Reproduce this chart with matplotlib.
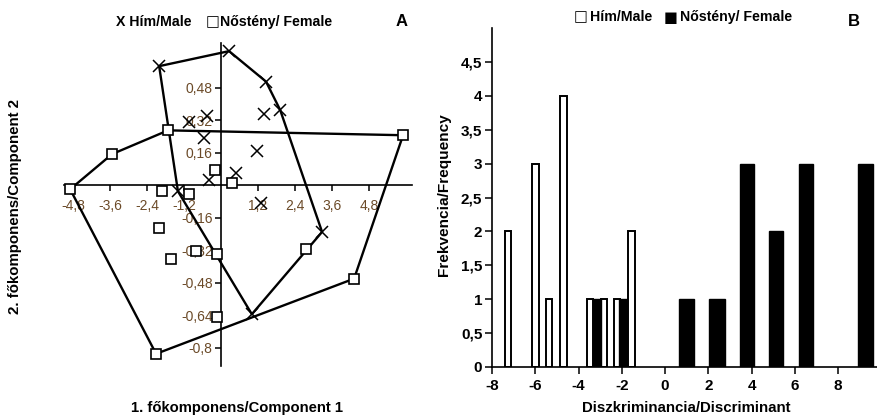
import matplotlib.pyplot as plt
from matplotlib.ticker import FixedLocator, FuncFormatter

plt.rcParams['font.family'] = ['Liberation Sans', 'DejaVu Sans']
plt.rcParams['font.weight'] = 'bold'
plt.rcParams['axes.unicode_minus'] = False

# ---------------------------------------------------------------------------
# Panel A: principal component scores
# ---------------------------------------------------------------------------
male_pc1 = [-2.01, 0.26, 1.46, 1.92, 1.40, -0.45, -1.04, -0.55, 1.17, 0.49,
            -0.39, -1.40, 1.30, 3.28, 1.00]
male_pc2 = [0.586, 0.66, 0.51, 0.37, 0.35, 0.34, 0.31, 0.23, 0.17, 0.06,
            0.025, -0.03, -0.09, -0.23, -0.635]

female_pc1 = [-1.72, 5.91, -3.54, -4.90, -1.92, -1.04, -0.19, 0.36, -2.01,
              -0.81, -0.13, -1.62, 2.77, 4.32, -0.13, -2.11]
female_pc2 = [0.27, 0.246, 0.153, -0.02, -0.03, -0.044, 0.074, 0.01, -0.21,
              -0.325, -0.34, -0.365, -0.315, -0.46, -0.65, -0.83]

pc1_ticks = [-4.8, -3.6, -2.4, -1.2, 1.2, 2.4, 3.6, 4.8]
pc2_ticks = [-0.8, -0.64, -0.48, -0.32, -0.16, 0.16, 0.32, 0.48]

# ---------------------------------------------------------------------------
# Panel B: discriminant score histogram
# ---------------------------------------------------------------------------
male_bins = [-7.25, -5.98, -5.37, -4.70, -3.46, -2.81, -2.21, -1.56]
male_freq = [2, 3, 1, 4, 1, 1, 1, 2]
female_bins = [-3.13, -1.93, 1.00, 2.40, 3.78, 5.13, 6.52, 9.28]
female_freq = [1, 1, 1, 1, 3, 2, 3, 3]

disc_ticks = [-8, -6, -4, -2, 0, 2, 4, 6, 8]
freq_ticks = [0, 0.5, 1, 1.5, 2, 2.5, 3, 3.5, 4, 4.5]

# bar widths (female bars sharing a bin with males are half width)
MALE_W = 0.30
female_w = [0.36, 0.36, 0.68, 0.70, 0.65, 0.62, 0.68, 0.70]

W, H = 878, 416
TICK_COLOR_A = '#6b4a28'


def comma(v, pos=None):
    s = f"{v:g}"
    return s.replace('.', ',')


def hull(xs, ys):
    pts = sorted(set(zip(xs, ys)))

    def cross(o, a, b):
        return (a[0] - o[0]) * (b[1] - o[1]) - (a[1] - o[1]) * (b[0] - o[0])

    lower, upper = [], []
    for p in pts:
        while len(lower) >= 2 and cross(lower[-2], lower[-1], p) <= 0:
            lower.pop()
        lower.append(p)
    for p in reversed(pts):
        while len(upper) >= 2 and cross(upper[-2], upper[-1], p) <= 0:
            upper.pop()
        upper.append(p)
    ring = lower[:-1] + upper[:-1]
    ring.append(ring[0])
    return [p[0] for p in ring], [p[1] for p in ring]


fig = plt.figure(figsize=(W / 100, H / 100), dpi=100)

# ---- Panel A --------------------------------------------------------------
axA = fig.add_axes([64 / W, 1 - 366 / H, (412 - 64) / W, (366 - 43) / H])
axA.set_xlim(-5.1, 6.2)
axA.set_ylim(-0.89, 0.70)
for s in ('top', 'right'):
    axA.spines[s].set_visible(False)
axA.spines['left'].set_position(('data', 0))
axA.spines['bottom'].set_position(('data', 0))
for s in ('left', 'bottom'):
    axA.spines[s].set_linewidth(1.2)

hx, hy = hull(male_pc1, male_pc2)
axA.plot(hx, hy, color='black', lw=1.7, zorder=2)
hx, hy = hull(female_pc1, female_pc2)
axA.plot(hx, hy, color='black', lw=1.7, zorder=2)

axA.plot(male_pc1, male_pc2, ls='none', marker='x', ms=9, mew=1.1,
         color='black', zorder=3)
axA.plot(female_pc1, female_pc2, ls='none', marker='s', ms=6.5, mew=1.2,
         mfc='white', mec='black', zorder=3)

axA.xaxis.set_major_locator(FixedLocator(pc1_ticks))
axA.yaxis.set_major_locator(FixedLocator(pc2_ticks))
axA.xaxis.set_major_formatter(FuncFormatter(comma))
axA.yaxis.set_major_formatter(FuncFormatter(comma))
axA.tick_params(axis='x', direction='out', length=4, width=1.1, pad=6,
                labelsize=10, labelcolor=TICK_COLOR_A)
axA.tick_params(axis='y', direction='out', length=4, width=1.1, pad=2,
                labelsize=10, labelcolor=TICK_COLOR_A)
for lab in axA.get_xticklabels() + axA.get_yticklabels():
    lab.set_fontweight('normal')
    lab.set_zorder(5)

fig.text(15 / W, 1 - 206 / H, '2. főkomponens/Component 2', rotation=90,
         ha='center', va='center', fontsize=10.8)
fig.text(237 / W, 1 - 408 / H, '1. főkomponens/Component 1',
         ha='center', va='center', fontsize=10.6)
fig.text(116 / W, 1 - 22 / H, 'X Hím/Male', ha='left', va='center',
         fontsize=10.2)
fig.text(206 / W, 1 - 22 / H, '□', ha='left', va='center', fontsize=10.5,
         family='DejaVu Sans', fontweight='bold')
fig.text(220 / W, 1 - 22 / H, 'Nőstény/ Female', ha='left', va='center',
         fontsize=10.2)
fig.text(402 / W, 1 - 21 / H, 'A', ha='center', va='center', fontsize=12)

# ---- Panel B --------------------------------------------------------------
axB = fig.add_axes([492 / W, 1 - 367 / H, (877 - 492) / W, (367 - 28) / H])
axB.set_xlim(-8, 9.8)
axB.set_ylim(0, 5.0)
for s in ('top', 'right'):
    axB.spines[s].set_visible(False)
for s in ('left', 'bottom'):
    axB.spines[s].set_linewidth(1.2)

axB.bar(male_bins, male_freq, width=MALE_W, color='white',
        edgecolor='black', linewidth=1.4, zorder=2)
axB.bar(female_bins, female_freq, width=female_w, color='black',
        edgecolor='black', linewidth=1.0, zorder=2)

axB.xaxis.set_major_locator(FixedLocator(disc_ticks))
axB.yaxis.set_major_locator(FixedLocator(freq_ticks))
axB.yaxis.set_major_formatter(FuncFormatter(comma))
axB.tick_params(axis='both', direction='out', length=5, width=1.1,
                labelsize=11)
axB.tick_params(axis='x', pad=4)
axB.tick_params(axis='y', pad=2)

fig.text(444 / W, 1 - 195 / H, 'Frekvencia/Frequency', rotation=90,
         ha='center', va='center', fontsize=11.1)
fig.text(686 / W, 1 - 408 / H, 'Diszkriminancia/Discriminant',
         ha='center', va='center', fontsize=10.8)
fig.text(574 / W, 1 - 17 / H, '□', ha='left', va='center', fontsize=10.5,
         family='DejaVu Sans', fontweight='bold')
fig.text(590 / W, 1 - 17 / H, 'Hím/Male', ha='left', va='center',
         fontsize=10.2)
fig.text(664 / W, 1 - 17 / H, '■', ha='left', va='center', fontsize=10.5,
         family='DejaVu Sans')
fig.text(680 / W, 1 - 17 / H, 'Nőstény/ Female', ha='left', va='center',
         fontsize=10.2)
fig.text(854 / W, 1 - 21 / H, 'B', ha='center', va='center', fontsize=12)

fig.savefig('out.png', dpi=100)
